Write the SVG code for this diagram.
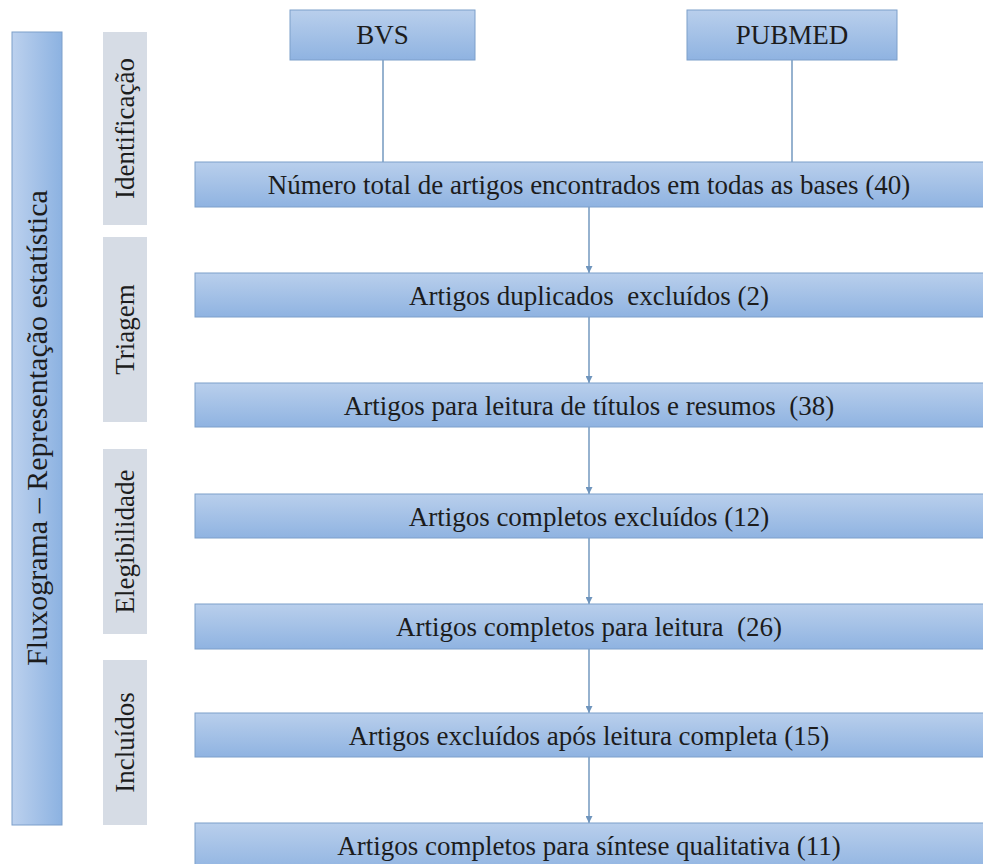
<svg xmlns="http://www.w3.org/2000/svg" width="983" height="864" viewBox="0 0 983 864">
<defs>
<linearGradient id="gv" x1="0" y1="0" x2="0" y2="1">
<stop offset="0" stop-color="#b9cfec"/>
<stop offset="1" stop-color="#8fb3e1"/>
</linearGradient>
<linearGradient id="gh" x1="0" y1="0" x2="1" y2="0">
<stop offset="0" stop-color="#bcd1ee"/>
<stop offset="1" stop-color="#8cb2e1"/>
</linearGradient>
<marker id="ah" viewBox="0 0 10 10" refX="10" refY="5" markerWidth="7" markerHeight="7" markerUnits="userSpaceOnUse" orient="auto">
<path d="M0,0 L10,5 L0,10 z" fill="#6f95bd"/>
</marker>
</defs>
<style>
.box{fill:url(#gv);stroke:#7c9fca;stroke-width:1}
.side{fill:#d6dce5}
.bar{fill:url(#gh);stroke:#7c9fca;stroke-width:1}
.c{stroke:#7398bf;stroke-width:1.5;fill:none}
.ca{stroke:#7398bf;stroke-width:1.5;fill:none;marker-end:url(#ah)}
.t{font-family:'Liberation Serif','Times New Roman',serif;font-size:27px;fill:#1c1c1c;text-anchor:middle}
.big{font-size:30px}
</style>
<rect width="983" height="864" fill="#ffffff"/>

<g id="fluxograma">
<rect class="bar" x="12" y="32" width="50" height="793"/>
<text class="t big" transform="translate(47,428) rotate(-90)">Fluxograma – Representação estatística</text>
</g>
<g id="identificacao">
<rect class="side" x="103" y="32" width="44" height="193"/>
<text class="t" transform="translate(134,128.5) rotate(-90)">Identificação</text>
</g>
<g id="triagem">
<rect class="side" x="103" y="237" width="44" height="185"/>
<text class="t" transform="translate(134,329.5) rotate(-90)">Triagem</text>
</g>
<g id="elegibilidade">
<rect class="side" x="103" y="449" width="44" height="185"/>
<text class="t" transform="translate(134,541.5) rotate(-90)">Elegibilidade</text>
</g>
<g id="incluidos">
<rect class="side" x="103" y="660" width="44" height="165"/>
<text class="t" transform="translate(134,742.5) rotate(-90)">Incluídos</text>
</g>

<g id="connectors">
<line class="c" x1="383" y1="60" x2="383" y2="162"/>
<line class="c" x1="792" y1="60" x2="792" y2="162"/>
<line class="ca" x1="589" y1="207" x2="589" y2="273"/>
<line class="ca" x1="589" y1="317" x2="589" y2="383"/>
<line class="ca" x1="589" y1="427" x2="589" y2="494"/>
<line class="ca" x1="589" y1="538" x2="589" y2="604"/>
<line class="ca" x1="589" y1="649" x2="589" y2="713"/>
<line class="ca" x1="589" y1="757" x2="589" y2="823"/>
</g>

<g id="bvs">
<rect class="box" x="290" y="10" width="185" height="50"/>
<text class="t" x="382.5" y="44">BVS</text>
</g>
<g id="pubmed">
<rect class="box" x="687" y="10" width="210" height="50"/>
<text class="t" x="792" y="44">PUBMED</text>
</g>
<g id="total">
<rect class="box" x="195" y="162" width="800" height="45"/>
<text class="t" x="589" y="194">Número total de artigos encontrados em todas as bases (40)</text>
</g>
<g id="duplicados">
<rect class="box" x="195" y="273" width="800" height="44"/>
<text class="t" x="589" y="305" xml:space="preserve">Artigos duplicados  excluídos (2)</text>
</g>
<g id="titulos">
<rect class="box" x="195" y="383" width="800" height="44"/>
<text class="t" x="589" y="415" xml:space="preserve">Artigos para leitura de títulos e resumos  (38)</text>
</g>
<g id="completos-excluidos">
<rect class="box" x="195" y="494" width="800" height="44"/>
<text class="t" x="589" y="526">Artigos completos excluídos (12)</text>
</g>
<g id="completos-leitura">
<rect class="box" x="195" y="604" width="800" height="45"/>
<text class="t" x="589" y="636" xml:space="preserve">Artigos completos para leitura  (26)</text>
</g>
<g id="excluidos-apos">
<rect class="box" x="195" y="713" width="800" height="44"/>
<text class="t" x="589" y="745">Artigos excluídos após leitura completa (15)</text>
</g>
<g id="sintese">
<rect class="box" x="195" y="823" width="800" height="50"/>
<text class="t" x="589" y="855">Artigos completos para síntese qualitativa (11)</text>
</g>
</svg>
